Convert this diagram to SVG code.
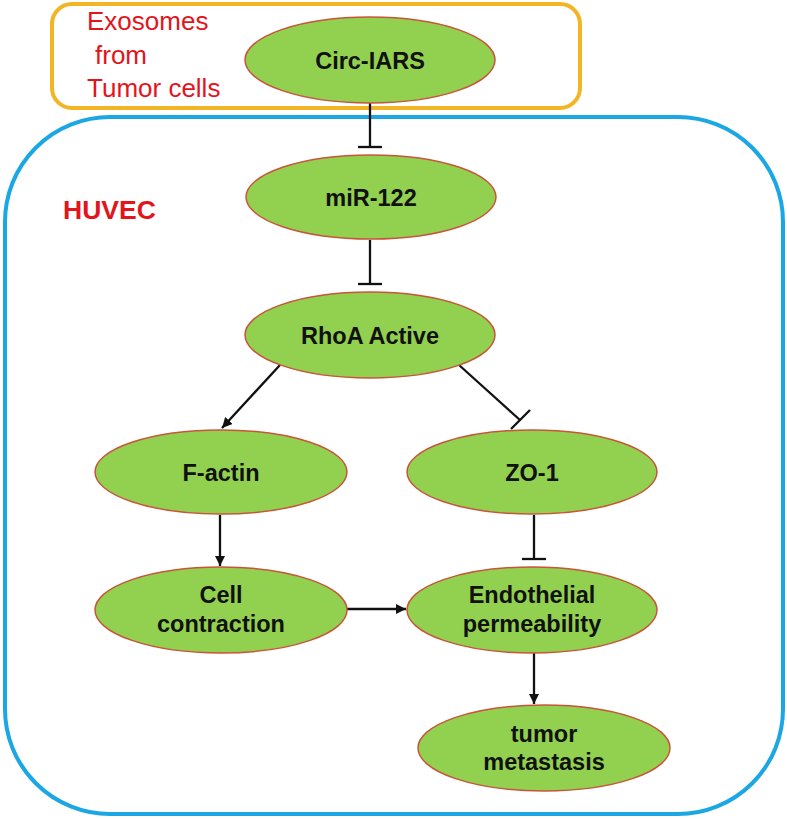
<svg xmlns="http://www.w3.org/2000/svg" width="787" height="819" viewBox="0 0 787 819">
<style>
.node{fill:#92D050;stroke:#C8553A;stroke-width:1.5}
.lbl{font-family:"Liberation Sans",Arial,sans-serif;font-weight:bold;font-size:23.5px;fill:#111;text-anchor:middle}
.red{font-family:"Liberation Sans",Arial,sans-serif;fill:#E3141C}
.edge{stroke:#111;stroke-width:2.3;fill:none}
</style>
<defs>
<marker id="arr" viewBox="0 0 10 10" refX="10" refY="5" markerWidth="4.5" markerHeight="4.5" orient="auto" markerUnits="strokeWidth">
<path d="M0,0 L10,5 L0,10 z" fill="#111"/>
</marker>
</defs>
<rect width="787" height="819" fill="#fff"/>
<g id="exosome-box">
<rect x="52" y="4" width="528" height="104" rx="20" fill="none" stroke="#F2B523" stroke-width="4"/>
<text class="red" font-size="26" x="87" y="30">Exosomes</text>
<text class="red" font-size="26" x="95" y="64">from</text>
<text class="red" font-size="26" x="87" y="97">Tumor cells</text>
</g>
<g id="huvec-box">
<rect x="5" y="117" width="778" height="697" rx="105" fill="none" stroke="#1AA7E4" stroke-width="4"/>
<text class="red" font-size="26.5" font-weight="bold" x="63" y="219">HUVEC</text>
</g>
<g id="connectors">
<line class="edge" x1="370" y1="103" x2="370" y2="147"/>
<line class="edge" x1="358" y1="147" x2="382" y2="147"/>
<line class="edge" x1="370" y1="240" x2="370" y2="284"/>
<line class="edge" x1="358" y1="284" x2="382" y2="284"/>
<line class="edge" x1="280" y1="365" x2="222" y2="428" marker-end="url(#arr)"/>
<line class="edge" x1="459" y1="365" x2="520" y2="420"/>
<line class="edge" x1="511" y1="429" x2="530" y2="410"/>
<line class="edge" x1="220" y1="515" x2="220" y2="566" marker-end="url(#arr)"/>
<line class="edge" x1="534" y1="515" x2="534" y2="559"/>
<line class="edge" x1="522" y1="559" x2="546" y2="559"/>
<line class="edge" x1="347" y1="609" x2="406" y2="609" marker-end="url(#arr)"/>
<line class="edge" x1="534" y1="653" x2="534" y2="704" marker-end="url(#arr)"/>
</g>
<g id="circ-iars">
<ellipse class="node" cx="370" cy="60" rx="125" ry="43"/>
<text class="lbl" x="370" y="69">Circ-IARS</text>
</g>
<g id="mir-122">
<ellipse class="node" cx="371" cy="197" rx="125" ry="42"/>
<text class="lbl" x="371" y="206">miR-122</text>
</g>
<g id="rhoa-active">
<ellipse class="node" cx="370" cy="335" rx="125" ry="43"/>
<text class="lbl" x="370" y="344">RhoA Active</text>
</g>
<g id="f-actin">
<ellipse class="node" cx="221" cy="472" rx="126" ry="42"/>
<text class="lbl" x="221" y="481">F-actin</text>
</g>
<g id="zo-1">
<ellipse class="node" cx="532" cy="472" rx="125" ry="42"/>
<text class="lbl" x="532" y="481">ZO-1</text>
</g>
<g id="cell-contraction">
<ellipse class="node" cx="221" cy="610" rx="126" ry="43"/>
<text class="lbl" x="221" y="603">Cell</text>
<text class="lbl" x="221" y="632">contraction</text>
</g>
<g id="endothelial-permeability">
<ellipse class="node" cx="532" cy="610" rx="125" ry="43"/>
<text class="lbl" x="532" y="603">Endothelial</text>
<text class="lbl" x="532" y="632">permeability</text>
</g>
<g id="tumor-metastasis">
<ellipse class="node" cx="544" cy="748" rx="126" ry="43"/>
<text class="lbl" x="544" y="742">tumor</text>
<text class="lbl" x="544" y="770">metastasis</text>
</g>
</svg>
